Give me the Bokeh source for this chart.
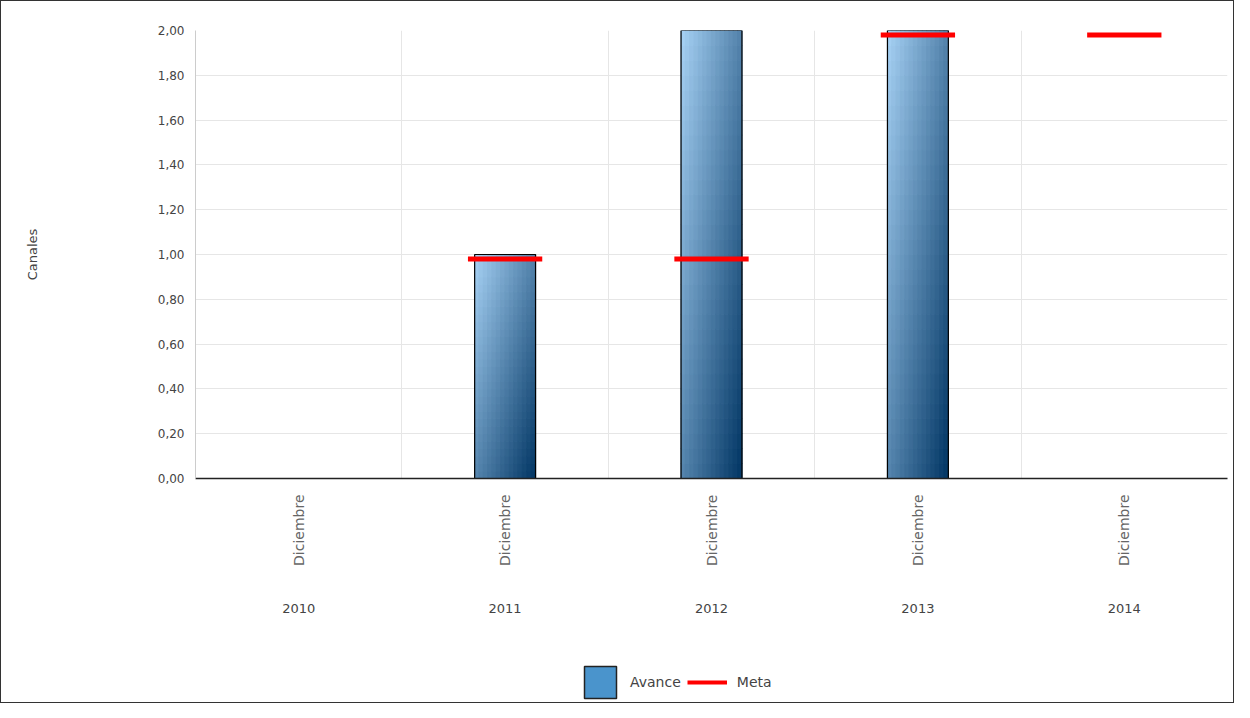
import math
from bokeh.plotting import figure
from bokeh.layouts import column
from bokeh.models import (ColumnDataSource, FixedTicker, LinearAxis, Legend,
                          LegendItem, CustomJSTickFormatter, Range1d)
from bokeh.embed import file_html
from bokeh.resources import INLINE

years = ["2010", "2011", "2012", "2013", "2014"]
months = ["Diciembre"] * 5
avance = [0, 1, 2, 2, 0]
meta = [None, 0.98, 0.98, 1.98, 1.98]

FONT = "DejaVu Sans"
xs = list(range(len(years)))

p = figure(frame_width=1032, frame_height=448, output_backend="svg", toolbar_location=None,
           x_range=Range1d(-0.5, 4.5), y_range=Range1d(0, 2.0),
           min_border_left=194, min_border_top=29, min_border_right=6, min_border_bottom=152)
p.xaxis.visible = False
p.outline_line_color = None

# gradient bars built from small cells
light = (0xA4, 0xCF, 0xF2)
dark = (0x06, 0x3A, 0x68)
nx, ny = 14, 30
bw = 0.295
cells = dict(left=[], right=[], bottom=[], top=[], color=[])
for x, v in zip(xs, avance):
    if not v:
        continue
    for i in range(nx):
        for j in range(ny):
            t = (i / (nx - 1) + (ny - 1 - j) / (ny - 1)) / 2
            c = tuple(int(light[k] + (dark[k] - light[k]) * t) for k in range(3))
            cells["left"].append(x - bw / 2 + i * bw / nx)
            cells["right"].append(x - bw / 2 + (i + 1) * bw / nx)
            cells["bottom"].append(v * j / ny)
            cells["top"].append(v * (j + 1) / ny)
            cells["color"].append("#%02x%02x%02x" % c)
p.quad(source=ColumnDataSource(cells), left="left", right="right", bottom="bottom",
       top="top", fill_color="color", line_color="color", line_width=1.2)
p.vbar(x=xs, top=avance, width=bw, fill_color=None, line_color="black", line_width=1.2)

mx = [x for x, m in zip(xs, meta) if m is not None]
my = [m for m in meta if m is not None]
p.segment(x0=[x - 0.18 for x in mx], x1=[x + 0.18 for x in mx], y0=my, y1=my,
          line_color="#ff0000", line_width=5)

# grid
p.xgrid.ticker = FixedTicker(ticks=[0.5, 1.5, 2.5, 3.5])
p.xgrid.grid_line_color = "#e6e6e6"
p.ygrid.grid_line_color = "#e6e6e6"

# y axis
p.yaxis.ticker = FixedTicker(ticks=[0, 0.2, 0.4, 0.6, 0.8, 1.0, 1.2, 1.4, 1.6, 1.8, 2.0])
p.yaxis.formatter = CustomJSTickFormatter(code="return tick.toFixed(2).replace('.', ',');")
p.yaxis.axis_label = "Canales"
p.yaxis.axis_label_text_font = FONT
p.yaxis.axis_label_text_font_style = "normal"
p.yaxis.axis_label_text_font_size = "13px"
p.yaxis.axis_label_standoff = 115
p.yaxis.major_label_text_font = FONT
p.yaxis.major_label_text_font_size = "12px"
p.yaxis.major_label_text_color = "#444"
p.yaxis.axis_line_color = "#ccc"
p.yaxis.major_tick_line_color = None
p.yaxis.minor_tick_line_color = None

# x axes: month then year
ax1 = LinearAxis(ticker=FixedTicker(ticks=xs),
                 major_label_overrides={x: m for x, m in zip(xs, months)},
                 major_label_orientation=math.pi / 2,
                 major_label_text_font=FONT, major_label_text_font_size="14px",
                 major_label_text_color="#666", axis_line_color="#222",
                 axis_line_width=1.5, major_tick_line_color=None,
                 minor_tick_line_color=None, major_label_standoff=10)
ax2 = LinearAxis(ticker=FixedTicker(ticks=xs),
                 major_label_overrides={x: y for x, y in zip(xs, years)},
                 major_label_text_font=FONT, major_label_text_font_size="13px",
                 major_label_text_color="#444", axis_line_color=None,
                 major_tick_line_color=None, minor_tick_line_color=None,
                 major_label_standoff=29)
p.add_layout(ax1, "below")
p.add_layout(ax2, "below")

# legend in its own small figure below the chart
lf = figure(width=1232, height=72, output_backend="svg", toolbar_location=None,
            x_range=Range1d(0, 1), y_range=Range1d(0, 1), min_border=0)
lf.axis.visible = False
lf.grid.visible = False
lf.outline_line_color = None
r_av = lf.quad(left=[-10], right=[-9], bottom=[-10], top=[-9], fill_color="#4a94cc",
               line_color="#222", line_width=1.5)
r_me = lf.line(x=[-10, -11], y=[-10, -10], line_color="#ff0000", line_width=4)
legend = Legend(items=[LegendItem(label="Avance", renderers=[r_av]),
                       LegendItem(label="Meta", renderers=[r_me])],
                orientation="horizontal", location=(385, 0),
                label_text_font=FONT, label_text_font_size="14px",
                border_line_color=None, background_fill_alpha=0,
                glyph_width=40, glyph_height=40,
                spacing=6, label_standoff=10, margin=0, padding=0)
lf.add_layout(legend, "center")

layout = column(p, lf, spacing=0, styles={"border": "1px solid #333"})
open("out.html", "w").write(file_html(layout, INLINE))
